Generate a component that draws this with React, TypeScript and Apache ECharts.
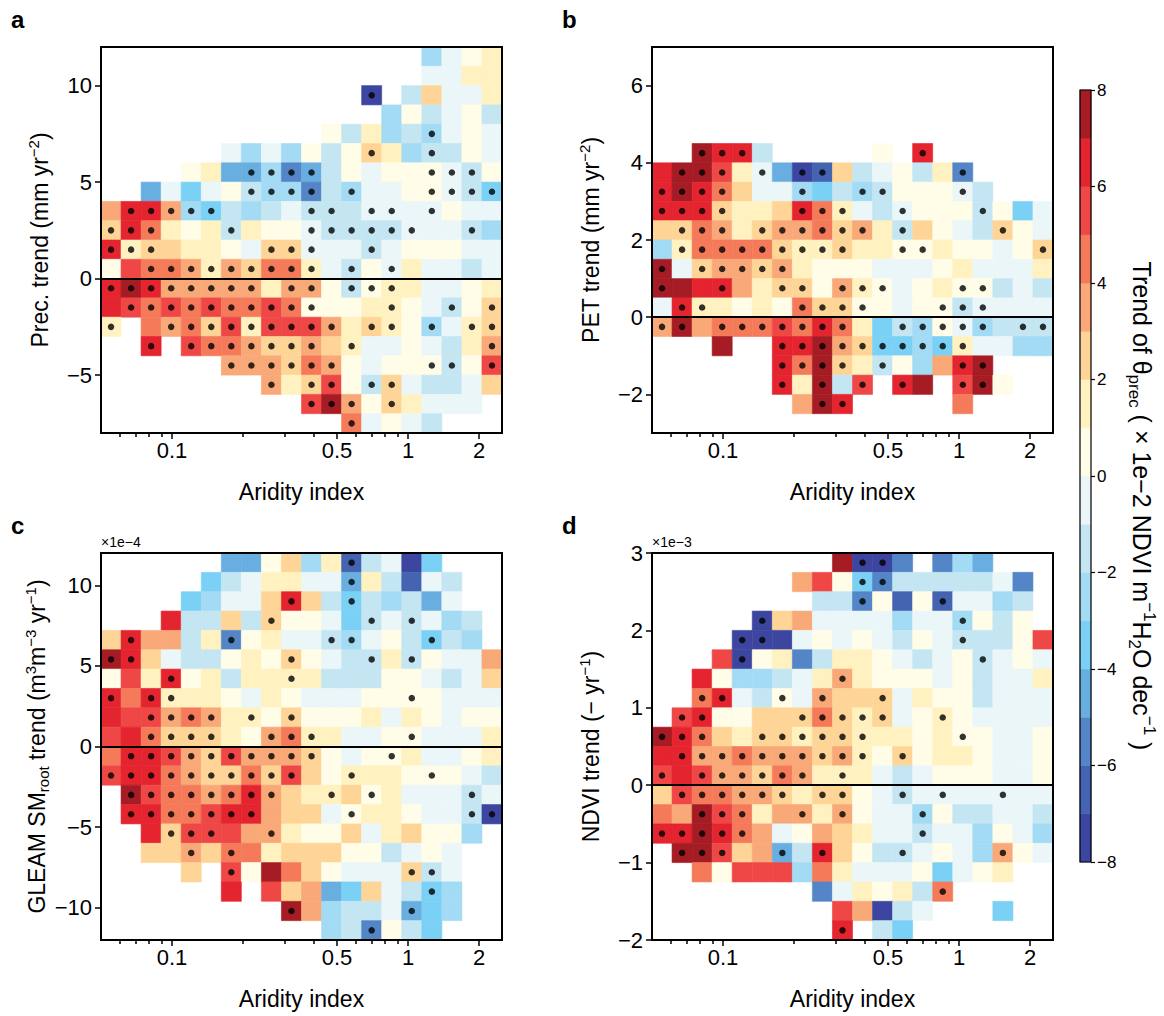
import React, { useEffect, useRef } from "react";
import * as echarts from "echarts";

const FONT = "'Liberation Sans', Arial, Helvetica, sans-serif";

// ---- x axis: aridity index, log10 binned into 20 columns ----
const aridityMin = 0.05;
const aridityMax = 2.5;
const nCols = 20;
const xMajorTicks = [0.1, 0.5, 1, 2];
const xMinorTicks = [0.06, 0.07, 0.08, 0.09, 0.2, 0.3, 0.4, 0.6, 0.7, 0.8, 0.9];

// ---- colour classes of the θprec trend (x1e-2), -8..8 in steps of 1 ----
// code char -> class index (0 = [-8,-7], ..., 15 = [7,8])
const classCodes = "hgfedcba12345678";
const classColors = [
  "#3c46a0", "#4463b0", "#5385c7", "#69aee0", "#7bd0f5", "#a3daf4", "#c4e6f2", "#ebf6f9",
  "#fffce8", "#fff2c0", "#fed597", "#f9a878", "#f47a5a", "#ef4646", "#e4242f", "#a51c24",
];
const colorbarMin = -8;
const colorbarMax = 8;

// ---- panel a: precipitation trend ----
const precRange = [-8, 12];
const precTicks = [-5, 0, 5, 10];
const precCells = [
  "................ca12",
  "................aa22",
  ".............h.b3aa2",
  "..............c1ba1b",
  "...........1b2cbca1a",
  "......acac1b132cbb1a",
  "....12eecfeb1a111ab1",
  "..eada1bccfbcaa11abd",
  "4774cdbcbabbbaaaa1aa",
  "375212b211abbbbaaabc",
  "7233221a33aaaba111aa",
  "16554243552ab1a2aaba",
  "787444442441b122aa12",
  "7656565565111221ab13",
  "2.54536266642321ca23",
  "..7.655433432aa1ab24",
  "......4443541a111b16",
  "........42361b3abba3",
  "..........684132aaa.",
  "............5a1ab...",
];
const precDots = [
  [], [], [13], [], [16], [13, 16],
  [7, 8, 9, 10, 16, 17, 18],
  [7, 8, 9, 10, 12, 16, 17, 18, 19],
  [1, 2, 3, 4, 5, 10, 11, 13, 14, 16],
  [0, 1, 2, 6, 10, 11, 12, 13, 14, 15, 18],
  [0, 1, 2, 8, 9, 10, 13],
  [2, 3, 4, 5, 6, 7, 8, 9, 10, 12, 14],
  [0, 1, 2, 3, 4, 5, 6, 7, 9, 10, 12, 13, 14],
  [1, 2, 3, 4, 5, 6, 7, 8, 9, 10, 14, 17, 19],
  [0, 3, 4, 5, 6, 7, 8, 9, 10, 11, 13, 14, 16, 18, 19],
  [2, 4, 5, 6, 7, 8, 9, 10, 12, 19],
  [6, 7, 8, 9, 10, 11, 16, 17, 19],
  [8, 10, 11, 13, 14],
  [10, 11, 12, 14],
  [12],
];

// ---- panel b: PET trend ----
const petRange = [-3, 7];
const petTicks = [-2, 0, 2, 4, 6];
const petCells = [
  "....................",
  "....................",
  "....................",
  "....................",
  "....................",
  "..877b.....1.7......",
  "78862aehg3ba1b2f....",
  "78753aacdbcb111ab...",
  "7773223752aba111b1da",
  "335423445342b31ab31a",
  "c2555532232211211a13",
  "8a344342111aaa12aaa2",
  "887742331421a1211bab",
  "a72212153311a11baaaa",
  "48455565752dbc1acbbb",
  "...8..77843ddcd2aacc",
  "......75832b1c478...",
  "......728b6.78.681..",
  ".......487.....5....",
  "....................",
];
const petDots = [
  [], [], [], [], [],
  [2, 3, 4, 13],
  [1, 2, 3, 5, 7, 8, 15],
  [0, 1, 2, 3, 7, 10, 11, 15],
  [0, 1, 2, 3, 7, 8, 9, 12, 16],
  [1, 2, 3, 5, 6, 7, 8, 9, 10, 12, 17],
  [1, 2, 3, 4, 5, 6, 7, 8, 9, 12, 13, 19],
  [0, 2, 3, 4, 5, 6],
  [0, 3, 6, 7, 9, 10, 11, 15, 16],
  [1, 2, 7, 8, 9, 10, 14, 15, 16],
  [0, 1, 3, 4, 5, 6, 7, 8, 9, 12, 13, 14, 15, 16, 18, 19],
  [6, 7, 8, 9, 10, 11, 12, 13, 14, 15],
  [6, 7, 8, 9, 11, 15, 16],
  [6, 8, 10, 12, 15, 16],
  [8, 9],
  [],
];

// ---- panel c: GLEAM root-zone soil moisture trend (x1e-4) ----
const smRange = [-12, 12];
const smTicks = [-10, -5, 0, 5, 10];
const smCells = [
  "......ee13c2gbahd...",
  ".....dba22aae2bgab..",
  "....dcaa373bdbcbea..",
  "...7bb3b311adbabacb.",
  "3744b2f12aabca1bdbc.",
  "873abb12131abb2b1aa4",
  "162712b2222bbb11aba3",
  "7572221a21aaa1111aaa",
  "76645422131112a21a11",
  "675333214522aa11aaa2",
  "577643644431a112aa12",
  "677543353631222111ab",
  ".86554574322312aaaba",
  ".7755677433a1221aabh",
  "..73666442113a2311c.",
  "..334355233311ba1a..",
  "....3.618531aaa3ba..",
  "......7.634ed3abdc..",
  ".........84cbbaedc..",
  "...........cbf1bd...",
];
const smDots = [
  [12], [12], [9, 12], [8, 13, 15],
  [1, 6, 11, 12, 16],
  [0, 1, 9, 13, 15],
  [3, 9],
  [0, 2, 3, 15],
  [2, 3, 4, 5, 7, 9],
  [2, 3, 4, 5, 8, 9, 10, 15],
  [1, 2, 3, 4, 5, 6, 7, 8, 9, 10, 14],
  [0, 1, 2, 3, 4, 5, 6, 7, 8, 9, 12, 16],
  [1, 2, 3, 4, 5, 6, 7, 8, 11, 13, 18],
  [1, 2, 3, 4, 5, 6, 7, 12, 18, 19],
  [3, 4, 5, 8],
  [4, 6],
  [6, 15, 16],
  [16],
  [9, 15],
  [13],
];

// ---- panel d: NDVI trend (x1e-3) ----
const ndviRange = [-2, 3];
const ndviTicks = [-2, -1, 0, 1, 2, 3];
const ndviCells = [
  ".........8hhf.fce...",
  ".......461dfbbbbbaf.",
  "........bbf1g1gaacb.",
  ".....h34aaaacaac1b1.",
  "....hhha1a1ab1abbb16",
  "...6h12fb221aba1ba1a",
  "..71ccba242111a1baa2",
  "..57ab1a4333a211baaa",
  ".67113335323a121aaaa",
  "87532332332221211aa1",
  "77445444342131221aa1",
  "67644354222aba111aa1",
  "36554432331abaaaaaaa",
  "54865244241aac1bbaab",
  "778754a1432aabaac1ac",
  ".88634eb731bba1ac41a",
  "..51666c52aaa1da12..",
  "........fa212b5.....",
  ".........64hba...d..",
  ".........7.bd.......",
];
const ndviDots = [
  [10, 11], [10, 11], [10, 14], [5, 15],
  [4, 5, 15],
  [4, 16],
  [9],
  [2, 3, 6, 8, 11],
  [1, 2, 7, 8, 9, 10, 11, 14],
  [0, 1, 2, 5, 6, 7, 8, 9, 10, 15],
  [1, 2, 3, 4, 5, 6, 7, 8, 9, 10, 12],
  [0, 2, 3, 4, 5, 6, 7, 9],
  [1, 2, 3, 4, 5, 6, 8, 9, 12, 14, 17],
  [2, 3, 4, 7, 9, 13],
  [0, 1, 2, 3, 4, 13],
  [1, 2, 3, 6, 8, 12, 17],
  [],
  [14],
  [],
  [9],
];

const L = (v: number) => Math.log10(v);
const LX0 = L(aridityMin);
const LX1 = L(aridityMax);
const colW = (LX1 - LX0) / nCols;

const RICH: any = {
  n: { fontSize: 23, fontFamily: FONT, color: "#000", lineHeight: 28 },
  sup: { fontSize: 15, fontFamily: FONT, color: "#000", lineHeight: 13, verticalAlign: "top" },
  sub: { fontSize: 15, fontFamily: FONT, color: "#000", lineHeight: 13, verticalAlign: "bottom" },
};
const RICH_CB: any = {
  n: { fontSize: 25, fontFamily: FONT, fill: "#000", lineHeight: 32 },
  sup: { fontSize: 17, fontFamily: FONT, fill: "#000", lineHeight: 15, verticalAlign: "top" },
  sub: { fontSize: 17, fontFamily: FONT, fill: "#000", lineHeight: 15, verticalAlign: "bottom" },
};
const colorbarTitle =
  "{n|Trend of θ}{sub|prec}{n| ( × 1e−2 NDVI m}{sup|−1}{n|H}{sub|2}{n|O dec}{sup|−1}{n| )}";

const panels = [
  {
    letter: "a", grid: { left: 101, top: 47, width: 401, height: 386 },
    range: precRange, ticks: precTicks, cells: precCells, dots: precDots,
    yName: "{n|Prec. trend (mm yr}{sup|−2}{n|)}", sci: "",
  },
  {
    letter: "b", grid: { left: 652, top: 47, width: 401, height: 386 },
    range: petRange, ticks: petTicks, cells: petCells, dots: petDots,
    yName: "{n|PET trend (mm yr}{sup|−2}{n|)}", sci: "",
  },
  {
    letter: "c", grid: { left: 101, top: 553, width: 401, height: 387 },
    range: smRange, ticks: smTicks, cells: smCells, dots: smDots,
    yName: "{n|GLEAM SM}{sub|root}{n| trend (m}{sup|3}{n|m}{sup|−3}{n| yr}{sup|−1}{n|)}", sci: "×1e−4",
  },
  {
    letter: "d", grid: { left: 652, top: 553, width: 401, height: 387 },
    range: ndviRange, ticks: ndviTicks, cells: ndviCells, dots: ndviDots,
    yName: "{n|NDVI trend (− yr}{sup|−1}{n|)}", sci: "×1e−3",
  },
];

function buildCells(p: any) {
  const rows = p.cells.length;
  const h = (p.range[1] - p.range[0]) / rows;
  const out: number[][] = [];
  p.cells.forEach((row: string, r: number) => {
    for (let c = 0; c < row.length; c++) {
      const idx = classCodes.indexOf(row[c]);
      if (idx < 0) continue;
      const x0 = LX0 + c * colW;
      const yTop = p.range[1] - r * h;
      out.push([x0, x0 + colW, yTop - h, yTop, idx]);
    }
  });
  return out;
}

function buildDots(p: any) {
  const rows = p.cells.length;
  const h = (p.range[1] - p.range[0]) / rows;
  const out: number[][] = [];
  p.dots.forEach((cols: number[], r: number) => {
    cols.forEach((c) => {
      out.push([LX0 + (c + 0.5) * colW, p.range[1] - (r + 0.5) * h]);
    });
  });
  return out;
}

const renderRect = (params: any, api: any) => {
  const p0 = api.coord([api.value(0), api.value(3)]);
  const p1 = api.coord([api.value(1), api.value(2)]);
  const col = classColors[api.value(4)];
  return {
    type: "rect",
    shape: { x: p0[0], y: p0[1], width: p1[0] - p0[0], height: p1[1] - p0[1] },
    style: { fill: col, stroke: col, lineWidth: 0.6 },
  };
};

const fmtX = (v: number) => String(Number(Math.pow(10, v).toPrecision(2)));
const fmtY = (v: number) => String(Math.round(v * 1000) / 1000).replace("-", "−");

export default function App() {
  const ref = useRef<HTMLDivElement>(null);
  useEffect(() => {
    document.body.style.margin = "0";
    const chart = echarts.init(ref.current!, undefined, { renderer: "svg" });
    const tickLine = { color: "#000", width: 1.5 };
    const grids: any[] = [];
    const xAxes: any[] = [];
    const yAxes: any[] = [];
    const series: any[] = [];
    const graphics: any[] = [];

    panels.forEach((p, i) => {
      grids.push({
        ...p.grid, show: true, borderColor: "#000", borderWidth: 2,
        backgroundColor: "transparent", z: 6,
      });
      xAxes.push({
        gridIndex: i, type: "value", min: LX0, max: LX1, position: "bottom", z: 6,
        axisLine: { show: false, onZero: false }, splitLine: { show: false },
        axisTick: { show: true, length: 6, customValues: xMajorTicks.map(L), lineStyle: tickLine },
        axisLabel: {
          show: true, customValues: xMajorTicks.map(L), formatter: fmtX,
          fontSize: 22, color: "#000", fontFamily: FONT, margin: 6,
        },
        name: "Aridity index", nameLocation: "middle", nameGap: 47,
        nameTextStyle: { fontSize: 23, color: "#000", fontFamily: FONT },
      });
      xAxes.push({
        gridIndex: i, type: "value", min: LX0, max: LX1, position: "bottom", z: 6,
        axisLine: { show: false, onZero: false }, splitLine: { show: false },
        axisTick: { show: true, length: 4, customValues: xMinorTicks.map(L), lineStyle: tickLine },
        axisLabel: { show: false },
      });
      yAxes.push({
        gridIndex: i, type: "value", min: p.range[0], max: p.range[1], position: "left", z: 6,
        axisLine: { show: false, onZero: false }, splitLine: { show: false },
        axisTick: { show: true, length: 6, customValues: p.ticks, lineStyle: tickLine },
        axisLabel: {
          show: true, customValues: p.ticks, formatter: fmtY,
          fontSize: 22, color: "#000", fontFamily: FONT, margin: 9,
        },
        name: p.yName, nameLocation: "middle", nameGap: 47,
        nameTextStyle: { fontSize: 23, color: "#000", fontFamily: FONT, rich: RICH },
      });
      series.push({
        type: "custom", xAxisIndex: 2 * i, yAxisIndex: i, renderItem: renderRect,
        data: buildCells(p), encode: { x: [0, 1], y: [2, 3] }, silent: true, z: 2,
      });
      series.push({
        type: "scatter", xAxisIndex: 2 * i, yAxisIndex: i, data: buildDots(p),
        symbol: "circle", symbolSize: 6.5, itemStyle: { color: "#000" }, silent: true, z: 3,
        markLine: {
          silent: true, symbol: ["none", "none"], label: { show: false },
          lineStyle: { color: "#000", width: 2.2, type: "solid" },
          data: [{ yAxis: 0 }],
        },
      });
      graphics.push({
        type: "text", left: p.grid.left - 90, top: p.grid.top - 40,
        style: { text: p.letter, fontSize: 24, fontWeight: "bold", fill: "#000", fontFamily: FONT },
      });
      if (p.sci) {
        graphics.push({
          type: "text", left: p.grid.left, top: p.grid.top - 18,
          style: { text: p.sci, fontSize: 14, fill: "#000", fontFamily: FONT },
        });
      }
    });

    // colour bar
    grids.push({
      left: 1080, top: 90, width: 11, height: 772, show: true,
      borderColor: "#000", borderWidth: 1.2, backgroundColor: "transparent", z: 6,
    });
    xAxes.push({ gridIndex: 4, type: "value", min: 0, max: 1, show: false });
    yAxes.push({
      gridIndex: 4, type: "value", min: colorbarMin, max: colorbarMax, interval: 2, position: "right", z: 6,
      axisLine: { show: false, onZero: false }, splitLine: { show: false },
      axisTick: { show: true, length: 4, lineStyle: { color: "#000", width: 1.2 } },
      axisLabel: { fontSize: 17, color: "#000", fontFamily: FONT, margin: 6, formatter: fmtY },
    });
    series.push({
      type: "custom", xAxisIndex: 8, yAxisIndex: 4, renderItem: renderRect, silent: true,
      encode: { x: [0, 1], y: [2, 3] },
      data: classColors.map((_, k) => [0, 1, colorbarMin + k, colorbarMin + k + 1, k]),
    });
    graphics.push({
      type: "text", x: 1142, y: 506, rotation: -Math.PI / 2,
      style: {
        text: colorbarTitle, align: "center", verticalAlign: "middle",
        fontSize: 25, fill: "#000", fontFamily: FONT, rich: RICH_CB,
      },
    });

    chart.setOption({
      animation: false,
      backgroundColor: "#fff",
      textStyle: { fontFamily: FONT },
      grid: grids, xAxis: xAxes, yAxis: yAxes, series, graphic: graphics,
    });
    return () => chart.dispose();
  }, []);
  return <div ref={ref} style={{ width: 1164, height: 1016 }} />;
}
